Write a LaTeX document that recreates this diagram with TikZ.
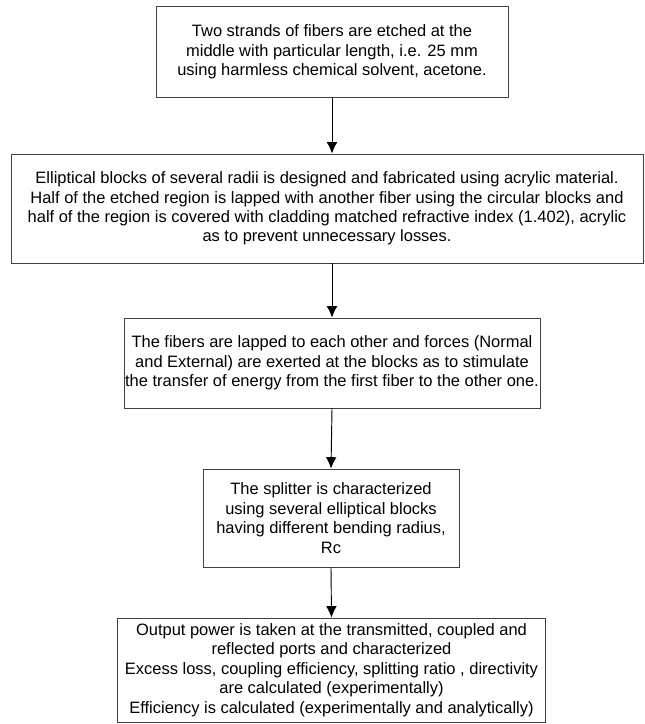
\documentclass[tikz,border=0pt]{standalone}
\usepackage{fontspec}
\setmainfont{Liberation Sans}
\usetikzlibrary{arrows.meta}

\begin{document}
\begin{tikzpicture}[x=0.75pt,y=0.75pt,
  stagebox/.style={draw=black!75,line width=0.7pt,align=center,inner sep=0pt,
    font=\fontsize{12.35}{14.6}\selectfont},
  flowarrow/.style={line width=0.7pt,-{Latex[width=8pt,length=8.5pt]}}]
\path [use as bounding box] (0,0) rectangle (644,-724);
\node [stagebox,minimum width=352*0.75pt,minimum height=91*0.75pt] (etch) at (332,-52)
  {Two strands of fibers are etched at the\\middle with particular length, i.e. 25 mm\\using harmless chemical solvent, acetone.};
\node [stagebox,minimum width=632*0.75pt,minimum height=109*0.75pt] (blocks) at (327,-208.5)
  {Elliptical blocks of several radii is designed and fabricated using acrylic material.\\Half of the etched region is lapped with another fiber using the circular blocks and\\half of the region is covered with cladding matched refractive index (1.402), acrylic\\as to prevent unnecessary losses.};
\node [stagebox,minimum width=416*0.75pt,minimum height=90*0.75pt] (lap) at (332,-363)
  {The fibers are lapped to each other and forces (Normal\\and External) are exerted at the blocks as to stimulate\\the transfer of energy from the first fiber to the other one.};
\node [stagebox,minimum width=256*0.75pt,minimum height=98*0.75pt] (splitter) at (331,-518)
  {The splitter is characterized\\using several elliptical blocks\\having different bending radius,\\Rc};
\node [stagebox,minimum width=428*0.75pt,minimum height=104*0.75pt] (output) at (331.5,-670)
  {Output power is taken at the transmitted, coupled and\\reflected ports and characterized\\Excess loss, coupling efficiency, splitting ratio , directivity\\are calculated (experimentally)\\Efficiency is calculated (experimentally and analytically)};
\draw [flowarrow] (etch.south) -- (etch.south |- blocks.north);
\draw [flowarrow] (etch.south |- blocks.south) -- (lap.north);
\draw [flowarrow] (lap.south) -- (splitter.north);
\draw [flowarrow] (splitter.south) -- (output.north);
\end{tikzpicture}
\end{document}
